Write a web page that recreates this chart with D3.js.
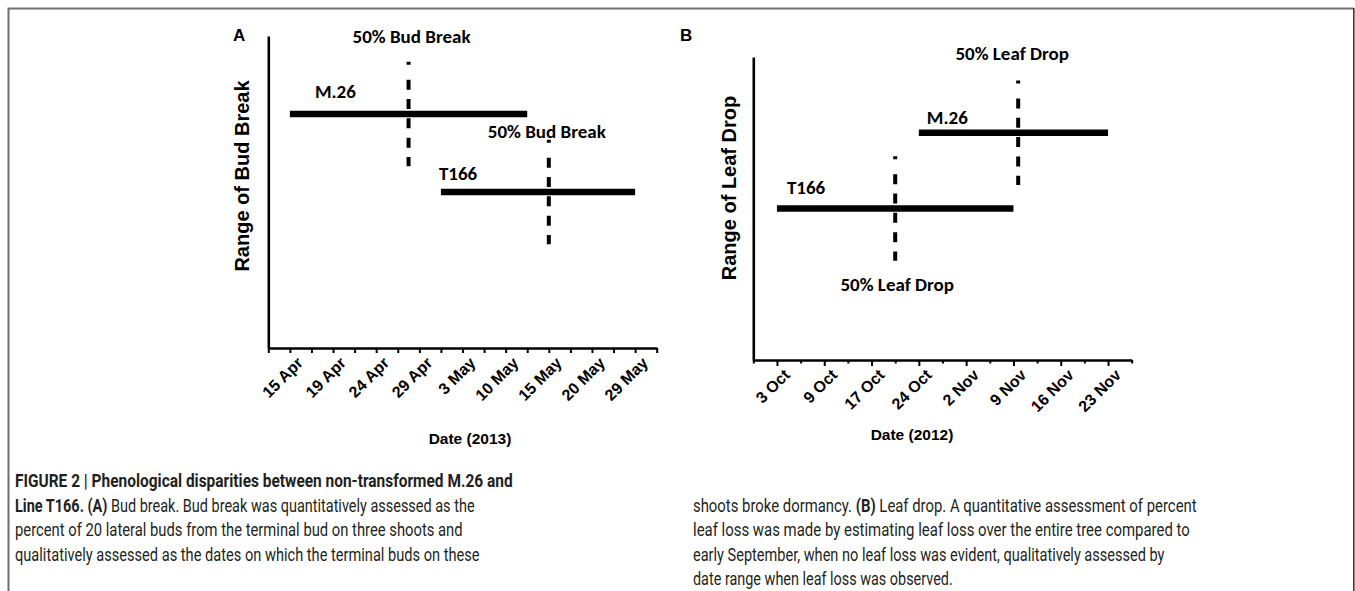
<!DOCTYPE html>
<html>
<head>
<meta charset="utf-8">
<script src="https://cdn.jsdelivr.net/npm/d3@7/dist/d3.min.js"></script>
<style>
  html, body { margin: 0; padding: 0; background: #fff; }
  svg { display: block; }
</style>
</head>
<body>
<script>
// Panel A: bud break, 2013 (x values are positions on the category axis)
const budDates = ["15 Apr", "19 Apr", "24 Apr", "29 Apr", "3 May", "10 May", "15 May", "20 May", "29 May"];
const budLines = ["M.26", "T166"];
const budStart = [0, 3.5];
const budEnd = [5.5, 8];
const budHalf = [2.75, 6];
const budLevel = [3, 2];

// Panel B: leaf drop, 2012
const leafDates = ["3 Oct", "9 Oct", "17 Oct", "24 Oct", "2 Nov", "9 Nov", "16 Nov", "23 Nov"];
const leafLines = ["M.26", "T166"];
const leafStart = [3, 0];
const leafEnd = [7, 5];
const leafHalf = [5.1, 2.5];
const leafLevel = [3, 2];

const W = 1355, H = 591;
const svg = d3.select("body").append("svg").attr("width", W).attr("height", H);

const axisFont = "'Liberation Sans', Arial, sans-serif";
const noteFont = "Carlito, Lato, 'Open Sans', sans-serif";
const capFont = "'Liberation Sans Narrow', Roboto, 'Liberation Sans', sans-serif";

// page frame
svg.append("path")
  .attr("d", `M8.5,${H} V8.5 H1353.5`)
  .attr("fill", "none").attr("stroke", "#6f6f6f").attr("stroke-width", 2);
svg.append("line")
  .attr("x1", 1353.8).attr("x2", 1353.8).attr("y1", 8).attr("y2", H)
  .attr("stroke", "#222").attr("stroke-width", 1.4);

function panel(cfg) {
  const g = svg.append("g");
  const x = d3.scaleLinear().domain([-0.5, cfg.dates.length - 0.5]).range(cfg.xRange);
  const y = d3.scaleLinear().domain([0, 4]).range(cfg.yRange);

  // x axis: a tick at every category edge and centre, labels at centres
  const xAxis = d3.axisBottom(x)
    .tickValues(d3.range(-0.5, cfg.dates.length - 0.49, 0.5))
    .tickSizeInner(cfg.tickLen).tickSizeOuter(0).tickPadding(0)
    .tickFormat(d => Number.isInteger(d) ? cfg.dates[d] : "");
  const gx = g.append("g").attr("transform", `translate(0,${cfg.yRange[0]})`).call(xAxis);
  gx.select(".domain").attr("stroke", "#000").attr("stroke-width", 2.6);
  gx.selectAll(".tick line").attr("stroke", "#000").attr("stroke-width", 2)
    .attr("y2", d => Number.isInteger(d) ? cfg.tickLen : cfg.minorLen);
  gx.selectAll(".tick text")
    .attr("font-family", axisFont).attr("font-weight", "bold").attr("font-size", 16)
    .attr("fill", "#000")
    .attr("text-anchor", "end")
    .attr("y", null).attr("dy", "0.35em")
    .attr("transform", "translate(9.5,12) rotate(-45)");

  // y axis: plain line
  const gy = g.append("g").attr("transform", `translate(${cfg.xRange[0]},0)`)
    .call(d3.axisLeft(y).tickValues([]).tickSizeOuter(0));
  gy.select(".domain").attr("stroke", "#000").attr("stroke-width", 2.6);

  // panel letter
  g.append("text").attr("x", cfg.letterX).attr("y", 41)
    .attr("font-family", axisFont).attr("font-weight", "bold").attr("font-size", 17)
    .text(cfg.letter);

  // y axis title
  g.append("text")
    .attr("transform", `translate(${cfg.yTitleX},${cfg.yTitleY}) rotate(-90)`)
    .attr("text-anchor", "middle")
    .attr("font-family", axisFont).attr("font-weight", "bold").attr("font-size", 20)
    .text(cfg.yTitle);

  // x axis title
  g.append("text")
    .attr("x", cfg.xTitleX).attr("y", cfg.xTitleY)
    .attr("text-anchor", "middle")
    .attr("font-family", axisFont).attr("font-weight", "bold").attr("font-size", 15.5)
    .text(cfg.xTitle);

  const rows = cfg.lines.map((name, i) => ({
    name, start: cfg.start[i], end: cfg.end[i], half: cfg.half[i], level: cfg.level[i], i
  }));

  // date ranges
  g.selectAll("line.range").data(rows).join("line").attr("class", "range")
    .attr("x1", d => x(d.start)).attr("x2", d => x(d.end))
    .attr("y1", d => y(d.level)).attr("y2", d => y(d.level))
    .attr("stroke", "#000").attr("stroke-width", 6.5);

  // 50% markers
  const span = cfg.span;
  g.selectAll("line.half").data(rows).join("line").attr("class", "half")
    .attr("x1", d => x(d.half)).attr("x2", d => x(d.half))
    .attr("y1", d => y(d.level + span)).attr("y2", d => y(d.level - span))
    .attr("stroke", "#000").attr("stroke-width", 4)
    .attr("stroke-dasharray", "3,15,10,9.3,10,9.3,10,9.3,10,9.3,10,40");

  // line names
  g.selectAll("text.name").data(rows).join("text").attr("class", "name")
    .attr("x", d => x(d.start) + cfg.nameDx[d.i])
    .attr("y", d => y(d.level) + cfg.nameDy[d.i])
    .attr("font-family", noteFont).attr("font-weight", "bold").attr("font-size", 19)
    .text(d => d.name);

  // 50% labels, above or below each marker
  g.selectAll("text.halfLabel").data(rows).join("text").attr("class", "halfLabel")
    .attr("x", d => x(d.half) + cfg.halfDx[d.i])
    .attr("y", d => cfg.halfBelow[d.i]
      ? y(d.level - span) + cfg.halfDy[d.i]
      : y(d.level + span) + cfg.halfDy[d.i])
    .attr("text-anchor", "middle")
    .attr("font-family", noteFont).attr("font-weight", "bold").attr("font-size", 19)
    .text(cfg.halfText);
}

panel({
  dates: budDates, lines: budLines, start: budStart, end: budEnd, half: budHalf, level: budLevel,
  xRange: [268.3, 656.7], yRange: [348, 36], tickLen: 5, minorLen: 5, span: 0.67,
  letter: "A", letterX: 233,
  yTitle: "Range of Bud Break", yTitleX: 249, yTitleY: 176,
  xTitle: "Date (2013)", xTitleX: 470, xTitleY: 444,
  nameDx: [25, -2], nameDy: [-16, -12],
  halfDx: [3, -2], halfDy: [-19, -1.5], halfBelow: [false, false],
  halfText: "50% Bud Break"
});

panel({
  dates: leafDates, lines: leafLines, start: leafStart, end: leafEnd, half: leafHalf, level: leafLevel,
  xRange: [753.3, 1131.7], yRange: [360, 57], tickLen: 6, minorLen: 3.5, span: 0.69,
  letter: "B", letterX: 680,
  yTitle: "Range of Leaf Drop", yTitleX: 736, yTitleY: 188,
  xTitle: "Date (2012)", xTitleX: 912, xTitleY: 440,
  nameDx: [8, 10], nameDy: [-9, -15],
  halfDx: [-6, 2], halfDy: [-20.5, 30], halfBelow: [false, true],
  halfText: "50% Leaf Drop"
});

// caption, two columns of condensed text
const capLeft = [
  { y: 487, w: 498, parts: [["FIGURE 2 | Phenological disparities between non-transformed M.26 and", true]] },
  { y: 511.5, w: 460, parts: [["Line T166. (A)", true], [" Bud break. Bud break was quantitatively assessed as the", false]] },
  { y: 536, w: 448, parts: [["percent of 20 lateral buds from the terminal bud on three shoots and", false]] },
  { y: 560.5, w: 465, parts: [["qualitatively assessed as the dates on which the terminal buds on these", false]] }
];
const capRight = [
  { y: 511.5, w: 504, parts: [["shoots broke dormancy. ", false], ["(B)", true], [" Leaf drop. A quantitative assessment of percent", false]] },
  { y: 536, w: 497, parts: [["leaf loss was made by estimating leaf loss over the entire tree compared to", false]] },
  { y: 560.5, w: 472, parts: [["early September, when no leaf loss was evident, qualitatively assessed by", false]] },
  { y: 585, w: 260, parts: [["date range when leaf loss was observed.", false]] }
];

function caption(lines, x0) {
  lines.forEach(l => {
    const t = svg.append("text")
      .attr("font-family", capFont).attr("font-size", 17.5).attr("fill", "#231f20");
    l.parts.forEach(([s, b]) => t.append("tspan").attr("font-weight", b ? "bold" : "normal").text(s));
    const len = t.node().getComputedTextLength();
    t.attr("transform", `translate(${x0},${l.y}) scale(${l.w / len},1)`);
  });
}
caption(capLeft, 15);
caption(capRight, 693);
</script>
</body>
</html>
